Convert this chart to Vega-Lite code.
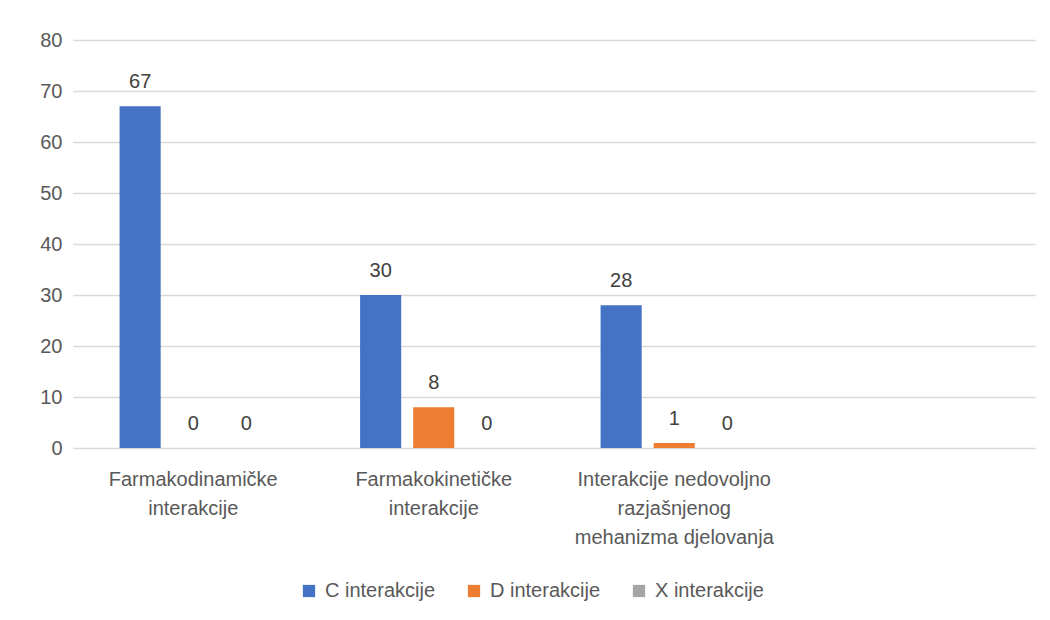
{
  "$schema": "https://vega.github.io/schema/vega-lite/v6.json",
  "width": 962,
  "height": 408,
  "autosize": {"type": "none"},
  "padding": {"left": 73, "top": 40, "right": 15, "bottom": 172},
  "background": "white",
  "data": {"values": [
    {"kat": "Farmakodinamičke interakcije", "tip": "C interakcije", "n": 67},
    {"kat": "Farmakodinamičke interakcije", "tip": "D interakcije", "n": 0},
    {"kat": "Farmakodinamičke interakcije", "tip": "X interakcije", "n": 0},
    {"kat": "Farmakokinetičke interakcije", "tip": "C interakcije", "n": 30},
    {"kat": "Farmakokinetičke interakcije", "tip": "D interakcije", "n": 8},
    {"kat": "Farmakokinetičke interakcije", "tip": "X interakcije", "n": 0},
    {"kat": "Interakcije nedovoljno razjašnjenog mehanizma djelovanja", "tip": "C interakcije", "n": 28},
    {"kat": "Interakcije nedovoljno razjašnjenog mehanizma djelovanja", "tip": "D interakcije", "n": 1},
    {"kat": "Interakcije nedovoljno razjašnjenog mehanizma djelovanja", "tip": "X interakcije", "n": 0}
  ]},
  "encoding": {
    "x": {
      "field": "kat", "type": "nominal",
      "scale": {"domain": ["Farmakodinamičke interakcije", "Farmakokinetičke interakcije", "Interakcije nedovoljno razjašnjenog mehanizma djelovanja", ""], "paddingInner": 0, "paddingOuter": 0},
      "axis": {
        "title": null, "domain": false, "ticks": false, "labelAngle": 0,
        "labelFont": "Liberation Sans", "labelFontSize": 20, "labelColor": "#595959",
        "labelPadding": 21, "labelLineHeight": 29, "labelLimit": 300,
        "labelExpr": "datum.value == '' ? '' : (datum.value == 'Interakcije nedovoljno razjašnjenog mehanizma djelovanja' ? ['Interakcije nedovoljno', 'razjašnjenog', 'mehanizma djelovanja'] : split(datum.value, ' '))"
      }
    },
    "xOffset": {
      "field": "tip", "type": "nominal",
      "scale": {"domain": ["C interakcije", "D interakcije", "X interakcije"], "paddingInner": 0.226, "paddingOuter": 0.877}
    },
    "y": {
      "field": "n", "type": "quantitative",
      "scale": {"domain": [0, 80]},
      "axis": {
        "title": null, "domain": false, "ticks": false,
        "values": [0, 10, 20, 30, 40, 50, 60, 70, 80],
        "grid": true, "gridColor": "#D9D9D9", "gridWidth": 1.3,
        "labelFont": "Liberation Sans", "labelFontSize": 20, "labelColor": "#595959", "labelPadding": 11
      }
    }
  },
  "layer": [
    {
      "mark": {"type": "bar"},
      "encoding": {
        "color": {
          "field": "tip", "type": "nominal",
          "scale": {"domain": ["C interakcije", "D interakcije", "X interakcije"], "range": ["#4472C4", "#ED7D31", "#A5A5A5"]},
          "legend": {
            "title": null, "orient": "none", "legendX": 226, "legendY": 541, "direction": "horizontal",
            "symbolType": "square", "symbolSize": 150, "symbolStrokeWidth": 0,
            "labelFont": "Liberation Sans", "labelFontSize": 20, "labelColor": "#595959",
            "columnPadding": 28, "labelOffset": 6
          }
        }
      }
    },
    {
      "mark": {"type": "text", "dy": -18, "baseline": "alphabetic", "font": "Liberation Sans", "fontSize": 20, "color": "#404040"},
      "encoding": {"text": {"field": "n", "type": "quantitative"}}
    }
  ],
  "config": {"view": {"stroke": null}}
}
